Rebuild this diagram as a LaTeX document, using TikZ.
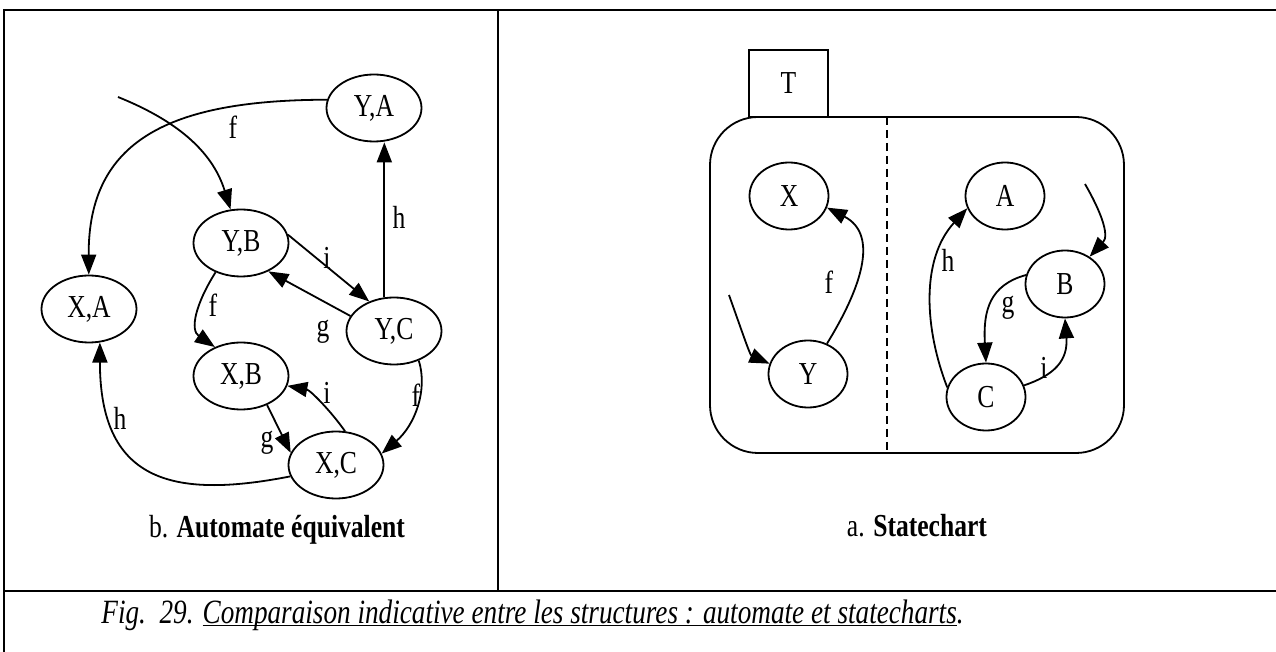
\documentclass[tikz,border=0pt]{standalone}
\usepackage{fontspec}
\setmainfont{Liberation Serif}[FakeStretch=0.8]
\usetikzlibrary{arrows.meta,shapes.geometric}

\tikzset{
  stnode/.style={draw, ellipse, line width=0.9pt, inner sep=0pt,
    minimum width=47.5pt, minimum height=33.5pt},
  smallst/.style={stnode, minimum width=39.5pt},
  trans/.style={line width=0.9pt, -{Triangle[length=10pt,width=7.5pt]}},
}

\begin{document}
\begin{tikzpicture}[x=0.5pt, y=-0.5pt, font=\fontsize{16}{19}\selectfont]
        \useasboundingbox (0,0) rectangle (1276,652);
        % frame
        \draw[line width=1.2pt] (4,652) -- (4,10) -- (1276,10);
        \draw[line width=1.2pt] (4,591) -- (1276,591);
        \draw[line width=1pt] (498,10) -- (498,591);

        % b. automate
        \node[stnode] (YA) at (374,108) {Y,A};
        \node[stnode] (YB) at (241,243) {Y,B};
        \node[stnode] (XA) at (89,309) {X,A};
        \node[stnode] (YC) at (394,331) {Y,C};
        \node[stnode] (XB) at (241,376) {X,B};
        \node[stnode] (XC) at (336,465) {X,C};
        \coordinate (init1) at (118,97);

        \draw[trans] (init1) .. controls (175,120) and (212,150) .. (YB);
        \draw[trans] (YA.170) .. controls (170,100) and (88,140) .. (XA);
        \draw[trans] (YC.106) -- (YC.106 |- YA.south);
        \draw[trans] (YB.10) -- (YC.130);
        \draw[trans] (YC.161) -- (YB.-46);
        \draw[trans] (YB.-131) .. controls (195,305) and (190,330) .. (XB.132);
        \draw[trans] (YC.-50) .. controls (428,390) and (415,425) .. (XC.14);
        \draw[trans] (XC.75) .. controls (330,410) and (310,390) .. (XB.-12);
        \draw[trans] (XB.-48) -- (XC.165);
        \draw[trans] (XC.194) .. controls (170,500) and (100,480) .. (XA.-72);

        \node (lf1) at (233,127) {f};
        \node (lh1) at (399,217) {h};
        \node (li1) at (327,258) {i};
        \node (lg1) at (323,332) {g};
        \node (lf2) at (213,305) {f};
        \node (lf3) at (416,395) {f};
        \node (li2) at (327,393) {i};
        \node (lg2) at (267,443) {g};
        \node (lh2) at (120,418) {h};

        \node[anchor=base] (capb) at (277,538) {b. \textbf{Automate équivalent}};

        % a. statechart
        \node[draw, line width=0.9pt, minimum width=39.5pt, minimum height=33.5pt] (T) at (788.5,83.5) {T};
        \draw[line width=0.9pt, rounded corners=24pt] (710,117) rectangle (1124,453);
        \draw[line width=0.9pt, dash pattern=on 4pt off 2.5pt] (887,117) -- (887,453);

        \node[smallst] (X) at (789,196) {X};
        \node[smallst] (Y) at (808,374) {Y};
        \node[smallst] (A) at (1005,196) {A};
        \node[smallst] (B) at (1065,284) {B};
        \node[smallst] (C) at (986,397) {C};
        \coordinate (init2) at (729,295);
        \coordinate (init3) at (1085,184);

        \draw[trans] (init2) .. controls (745,340) and (750,355) .. (Y.165);
        \draw[trans] (Y.58) .. controls (860,290) and (880,235) .. (X.-17);
        \draw[trans] (C.166) .. controls (925,330) and (920,260) .. (A.198);
        \draw[trans] (init3) .. controls (1100,210) and (1110,235) .. (B.48);
        \draw[trans] (B.167) .. controls (990,285) and (983,310) .. (C.north);
        \draw[trans] (C.17) .. controls (1055,375) and (1068,360) .. (B.south);

        \node (lf4) at (829,282) {f};
        \node (lh3) at (948,260) {h};
        \node (lg3) at (1008,308) {g};
        \node (li3) at (1044,368) {i};

        \node[anchor=base] (capa) at (917,537) {a. \textbf{Statechart}};

        % caption
        \node[anchor=base west, inner sep=0pt, font=\fontsize{17}{20}\selectfont] (fig) at (101,623)
          {\itshape Fig.\ \ 29. \underline{\smash{Comparaison indicative entre les structures : automate et statecharts}}.};
\end{tikzpicture}
\end{document}
